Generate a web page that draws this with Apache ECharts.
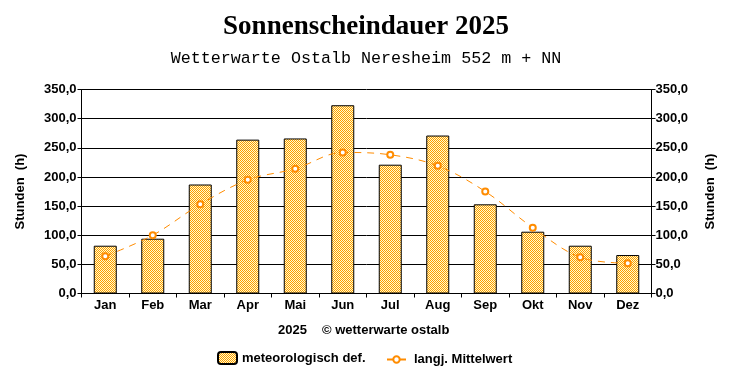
<!DOCTYPE html>
<html>
<head>
<meta charset="utf-8">
<script src="https://cdn.jsdelivr.net/npm/echarts@6/dist/echarts.min.js"></script>
<style>html,body{margin:0;padding:0;background:#fff}#c{width:732px;height:380px}</style>
</head>
<body>
<div id="c"></div>
<script>
const months = ['Jan','Feb','Mar','Apr','Mai','Jun','Jul','Aug','Sep','Okt','Nov','Dez'];
const sunshine = [82, 94, 187, 264, 266, 323, 221, 271, 153, 106, 82, 66];
const longTermMean = [64, 100, 153, 195, 214, 242, 238, 219, 175, 113, 62, 52];
const titleText = 'Sonnenscheindauer 2025';
const subtitleText = 'Wetterwarte Ostalb Neresheim 552 m + NN';
const footerYear = '2025';
const footerCopy = '\u00a9 wetterwarte ostalb';
const yAxisName = 'Stunden  (h)';
const barName = 'meteorologisch def.';
const lineName = 'langj. Mittelwert';

const pc = document.createElement('canvas');
pc.width = 2; pc.height = 2;
const ctx = pc.getContext('2d');
ctx.fillStyle = '#ffffcc'; ctx.fillRect(0,0,2,2);
ctx.fillStyle = '#ff9900'; ctx.fillRect(0,0,1,1); ctx.fillRect(1,1,1,1);
const pattern = {image: pc, repeat: 'repeat'};

const font = 'Liberation Sans';
const lbl = v => v.toFixed(1).replace('.', ',');

const chart = echarts.init(document.getElementById('c'), null, {renderer: 'canvas'});
chart.setOption({
  animation: false,
  backgroundColor: '#fff',
  title: [{
    text: titleText, left: 'center', top: 9,
    textStyle: {fontFamily: 'Liberation Serif', fontWeight: 'bold', fontSize: 27, color: '#000'}
  }, {
    text: subtitleText, left: 'center', top: 45,
    textStyle: {fontFamily: 'Liberation Mono', fontWeight: 'normal', fontSize: 16.7, color: '#000'}
  }],
  graphic: [
    {type: 'text', left: 278, top: 324, style: {text: footerYear, font: 'bold 13px Liberation Sans', fill: '#000'}},
    {type: 'text', left: 322, top: 324, style: {text: footerCopy, font: 'bold 13px Liberation Sans', fill: '#000'}}
  ],
  legend: [{
    data: [barName], left: 217, top: 351, itemWidth: 19, itemHeight: 12, itemGap: 0,
    textStyle: {fontFamily: font, fontWeight: 'bold', fontSize: 13, color: '#000'}, padding: 0
  }, {
    data: [lineName], left: 386, top: 353, itemWidth: 19, itemHeight: 8, itemGap: 0,
    textStyle: {fontFamily: font, fontWeight: 'bold', fontSize: 13, color: '#000', padding: [0, 0, 0, 3]}, padding: 0
  }],
  grid: {left: 81.5, right: 80.5, top: 89.5, bottom: 86.5, containLabel: false},
  xAxis: {
    type: 'category', data: months, boundaryGap: true,
    axisLine: {lineStyle: {color: '#000', width: 1}},
    axisTick: {show: true, length: 4, lineStyle: {color: '#000'}, alignWithLabel: false},
    axisLabel: {fontFamily: font, fontWeight: 'bold', fontSize: 13, color: '#000', margin: 5}
  },
  yAxis: [{
    type: 'value', min: 0, max: 350, interval: 50, position: 'left',
    name: yAxisName, nameLocation: 'middle', nameRotate: 90, nameGap: 55,
    nameTextStyle: {fontFamily: font, fontWeight: 'bold', fontSize: 13, color: '#000'},
    axisLine: {show: true, lineStyle: {color: '#000'}},
    axisTick: {show: true, length: 4, lineStyle: {color: '#000'}},
    axisLabel: {formatter: lbl, fontFamily: font, fontWeight: 'bold', fontSize: 13, color: '#000', margin: 5},
    splitLine: {show: true, lineStyle: {color: '#000', width: 1}}
  }, {
    type: 'value', min: 0, max: 350, interval: 50, position: 'right',
    name: yAxisName, nameLocation: 'middle', nameRotate: 90, nameGap: 52,
    nameTextStyle: {fontFamily: font, fontWeight: 'bold', fontSize: 13, color: '#000'},
    axisLine: {show: true, lineStyle: {color: '#000'}},
    axisTick: {show: true, length: 4, lineStyle: {color: '#000'}},
    axisLabel: {formatter: lbl, fontFamily: font, fontWeight: 'bold', fontSize: 13, color: '#000', margin: 4},
    splitLine: {show: false}
  }],
  series: [{
    name: barName, type: 'bar', data: sunshine, barWidth: 23, yAxisIndex: 0,
    itemStyle: {color: pattern, borderColor: '#000', borderWidth: 1}
  }, {
    name: lineName, type: 'line', data: longTermMean, yAxisIndex: 0, smooth: 0.35,
    symbol: 'emptyCircle', symbolSize: 6,
    lineStyle: {color: '#ff8c00', width: 1, type: [7, 6]},
    itemStyle: {color: '#ff8c00', borderColor: '#ff8c00', borderWidth: 1}
  }]
});
</script>
</body>
</html>
